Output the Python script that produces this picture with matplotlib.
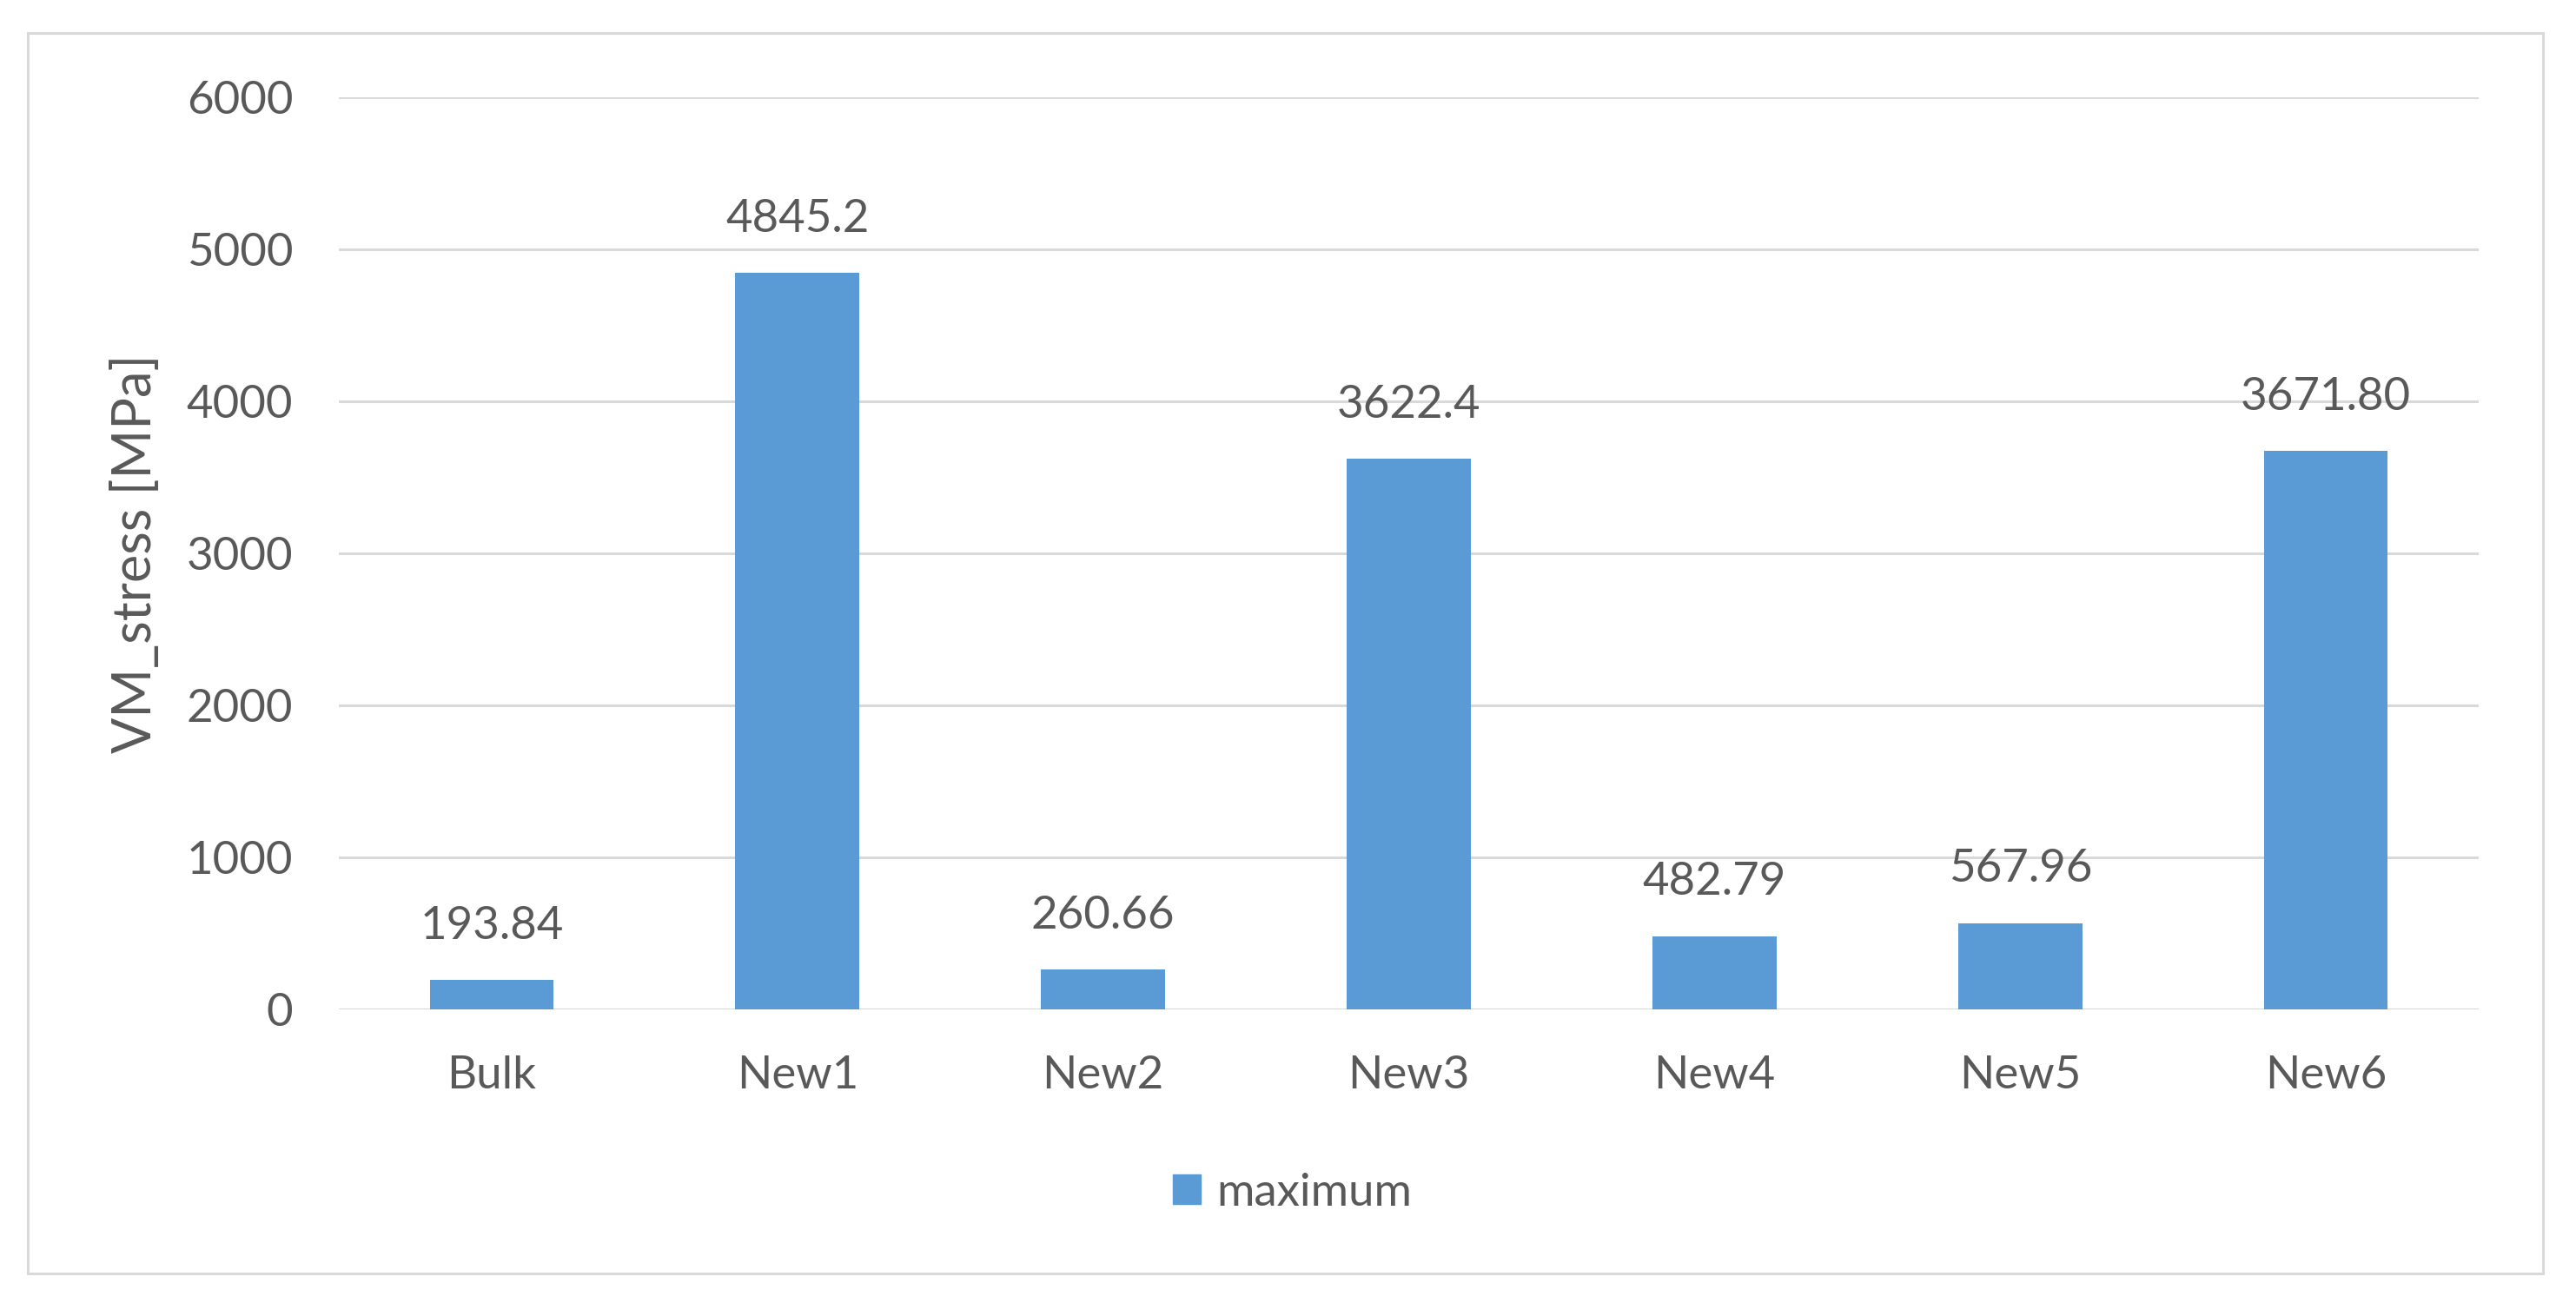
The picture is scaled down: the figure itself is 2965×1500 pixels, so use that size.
import matplotlib
matplotlib.use("Agg")
import matplotlib.pyplot as plt
from matplotlib.patches import Patch, Rectangle

categories = ["Bulk", "New1", "New2", "New3", "New4", "New5", "New6"]
vm_max = [193.84, 4845.2, 260.66, 3622.4, 482.79, 567.96, 3671.80]
value_labels = ["193.84", "4845.2", "260.66", "3622.4", "482.79", "567.96", "3671.80"]
yticks = [0, 1000, 2000, 3000, 4000, 5000, 6000]
series_name = "maximum"
ylabel = "VM_stress [MPa]"

plt.rcParams['font.family'] = ['Lato', 'DejaVu Sans']
txt_c = '#595959'
grid_c = '#d9d9d9'
bar_c = '#5b9bd5'

W, H = 2965, 1500
fig = plt.figure(figsize=(W / 100, H / 100), dpi=100)
# plot area in pixels: x 390..2853, y 112..1162
ax = fig.add_axes([390 / W, 1 - 1162 / H, (2853 - 390) / W, (1162 - 112) / H])

x = list(range(len(categories)))
ax.bar(x, vm_max, width=0.406, color=bar_c, zorder=3)
ax.set_xlim(-0.5, len(categories) - 0.5)
ax.set_ylim(0, 6000)
ax.set_yticks(yticks)
ax.set_xticks(x)
ax.set_xticklabels(categories)
ax.grid(axis='y', color=grid_c, lw=2.2, zorder=0)
ax.set_axisbelow(True)
for s in ax.spines.values():
    s.set_visible(False)
ax.tick_params(length=0, labelsize=38, labelcolor=txt_c)
ax.tick_params(axis='y', pad=38)
ax.tick_params(axis='x', pad=38)

ax.set_ylabel(ylabel, fontsize=44, color=txt_c, labelpad=21)

for i, (v, lbl) in enumerate(zip(vm_max, value_labels)):
    ax.annotate(lbl, (i, v), xytext=(0, 34), textcoords='offset points',
                ha='center', va='baseline', fontsize=38, color=txt_c)

fig.legend(handles=[Patch(color=bar_c, label=series_name)], loc='center',
           bbox_to_anchor=(1488 / W, 1 - 1373 / H), frameon=False, fontsize=38,
           handlelength=0.6, handleheight=0.6, handletextpad=0.35, labelcolor=txt_c)

# outer chart border
fig.patches.append(Rectangle((32 / W, 1 - 1466 / H), (2927 - 32) / W, (1466 - 38) / H,
                             transform=fig.transFigure, fill=False,
                             edgecolor=grid_c, lw=2.2))

fig.savefig('out.png', dpi=100)
